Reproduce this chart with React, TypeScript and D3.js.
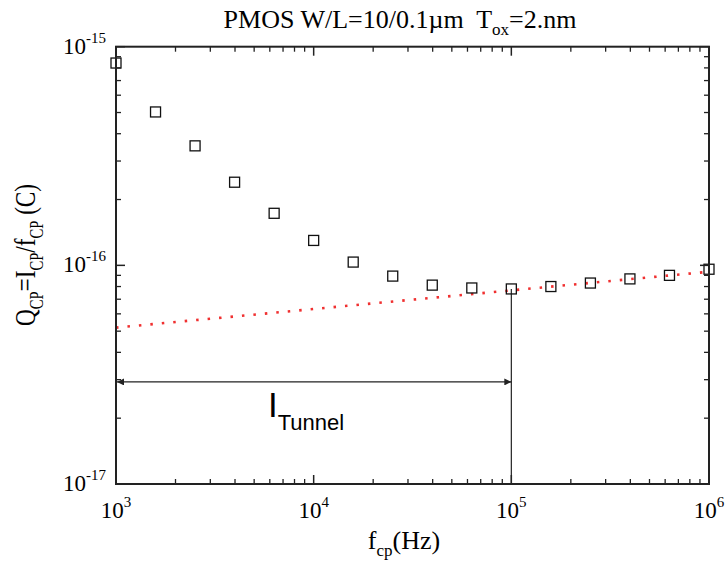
import React from "react";
import * as d3 from "d3";

const freqs = [1e3, 1585, 2512, 3981, 6310, 1e4, 15850, 25120, 39810, 63100, 1e5, 158500, 251200, 398100, 631000, 1e6];
const charge = [8.42e-16, 5.03e-16, 3.52e-16, 2.4e-16, 1.73e-16, 1.3e-16, 1.035e-16, 8.93e-17, 8.12e-17, 7.88e-17, 7.8e-17, 8.0e-17, 8.3e-17, 8.67e-17, 9.0e-17, 9.6e-17];
const fitFreq = [1e3, 1e6];
const fitQ = [5.19e-17, 9.35e-17];
const xTicks = [3, 4, 5, 6];
const yTicks = [-15, -16, -17];
const tunnelFreq = 1e5;
const tunnelQ = 7.8e-17;
const arrowQ = 2.93e-17;

const L = 116, R = 709, T = 46.7, B = 484;

export default function App() {
  const x = d3.scaleLog().domain([1e3, 1e6]).range([L, R]);
  const y = d3.scaleLog().domain([1e-17, 1e-15]).range([B, T]);
  const serif = "Liberation Serif";
  const minorX: number[] = [];
  for (let e = 3; e < 6; e++) for (let m = 2; m <= 9; m++) minorX.push(m * Math.pow(10, e));
  const minorY: number[] = [];
  for (let e = -17; e < -15; e++) for (let m = 2; m <= 9; m++) minorY.push(m * Math.pow(10, e));
  const line = d3.line<[number, number]>().x(d => x(d[0])).y(d => y(d[1]));
  const fitData: [number, number][] = fitFreq.map((f, i) => [f, fitQ[i]]);
  const ay = y(arrowQ);
  return (
    <svg width={726} height={562} style={{ display: "block", position: "absolute", left: 0, top: 0, overflow: "visible" }}>
      <defs>
        <marker id="ah" viewBox="0 0 10 10" refX="10" refY="5" markerWidth="11" markerHeight="7" markerUnits="userSpaceOnUse" orient="auto-start-reverse">
          <path d="M0,0 L10,5 L0,10 z" fill="#222" />
        </marker>
      </defs>
      <rect x={0} y={0} width={726} height={562} fill="#fff" />
      <g>
        <text x={400} y={28} textAnchor="middle" fontFamily={serif} fontSize={26} style={{ whiteSpace: "pre" }}>
          PMOS W/L=10/0.1µm  T<tspan fontSize={17} dy={7}>ox</tspan><tspan dy={-7}>=2.nm</tspan>
        </text>
        {/* fit line */}
        <path d={line(fitData) || ""} fill="none" stroke="#f03030" strokeWidth={2.6} strokeDasharray="2.5 9" />
        {/* tunnel annotation */}
        <line x1={x(tunnelFreq)} x2={x(tunnelFreq)} y1={y(tunnelQ)} y2={B} stroke="#222" strokeWidth={1.2} />
        <line x1={L + 1} x2={x(tunnelFreq)} y1={ay} y2={ay} stroke="#222" strokeWidth={1.2} markerStart="url(#ah)" markerEnd="url(#ah)" />
        <text x={268} y={417} fontFamily="Liberation Sans" fontSize={35}>I<tspan fontSize={22} dy={13}>Tunnel</tspan></text>
        {/* data */}
        {freqs.map((f, i) => (
          <rect key={i} x={x(f) - 5} y={y(charge[i]) - 5} width={10} height={10} fill="none" stroke="#111" strokeWidth={1.3} />
        ))}
        {/* ticks */}
        {xTicks.map(e => {
          const px = x(Math.pow(10, e));
          return (
            <g key={e}>
              <line x1={px} x2={px} y1={B} y2={B - 9} stroke="#222" strokeWidth={1.5} />
              <line x1={px} x2={px} y1={T} y2={T + 9} stroke="#222" strokeWidth={1.5} />
              <text x={px} y={518} textAnchor="middle" fontFamily={serif} fontSize={23}>10<tspan fontSize={15} dy={-11}>{e}</tspan></text>
            </g>
          );
        })}
        {minorX.map((f, i) => (
          <g key={i}>
            <line x1={x(f)} x2={x(f)} y1={B} y2={B - 5} stroke="#222" strokeWidth={1.3} />
            <line x1={x(f)} x2={x(f)} y1={T} y2={T + 5} stroke="#222" strokeWidth={1.3} />
          </g>
        ))}
        {yTicks.map(e => {
          const py = y(Math.pow(10, e));
          return (
            <g key={e}>
              <line x1={L} x2={L + 9} y1={py} y2={py} stroke="#222" strokeWidth={1.5} />
              <line x1={R} x2={R - 9} y1={py} y2={py} stroke="#222" strokeWidth={1.5} />
              <text x={106} y={py + 7} textAnchor="end" fontFamily={serif} fontSize={23}>10<tspan fontSize={15} dy={-11}>{e}</tspan></text>
            </g>
          );
        })}
        {minorY.map((q, i) => (
          <g key={i}>
            <line x1={L} x2={L + 5} y1={y(q)} y2={y(q)} stroke="#222" strokeWidth={1.3} />
            <line x1={R} x2={R - 5} y1={y(q)} y2={y(q)} stroke="#222" strokeWidth={1.3} />
          </g>
        ))}
        <rect x={L} y={T} width={R - L} height={B - T} fill="none" stroke="#222" strokeWidth={2} />
        {/* axis labels */}
        <text x={404} y={549} textAnchor="middle" fontFamily={serif} fontSize={26}>f<tspan fontSize={17} dy={7}>cp</tspan><tspan dy={-7}>(Hz)</tspan></text>
        <text transform="translate(35,255) rotate(-90) scale(0.86,1.12)" textAnchor="middle" fontFamily={serif} fontSize={27}>
          Q<tspan fontSize={17} dy={7}>CP</tspan><tspan dy={-7}>=I</tspan><tspan fontSize={17} dy={7}>CP</tspan><tspan dy={-7}>/f</tspan><tspan fontSize={17} dy={7}>CP</tspan><tspan dy={-7}> (C)</tspan>
        </text>
      </g>
    </svg>
  );
}
